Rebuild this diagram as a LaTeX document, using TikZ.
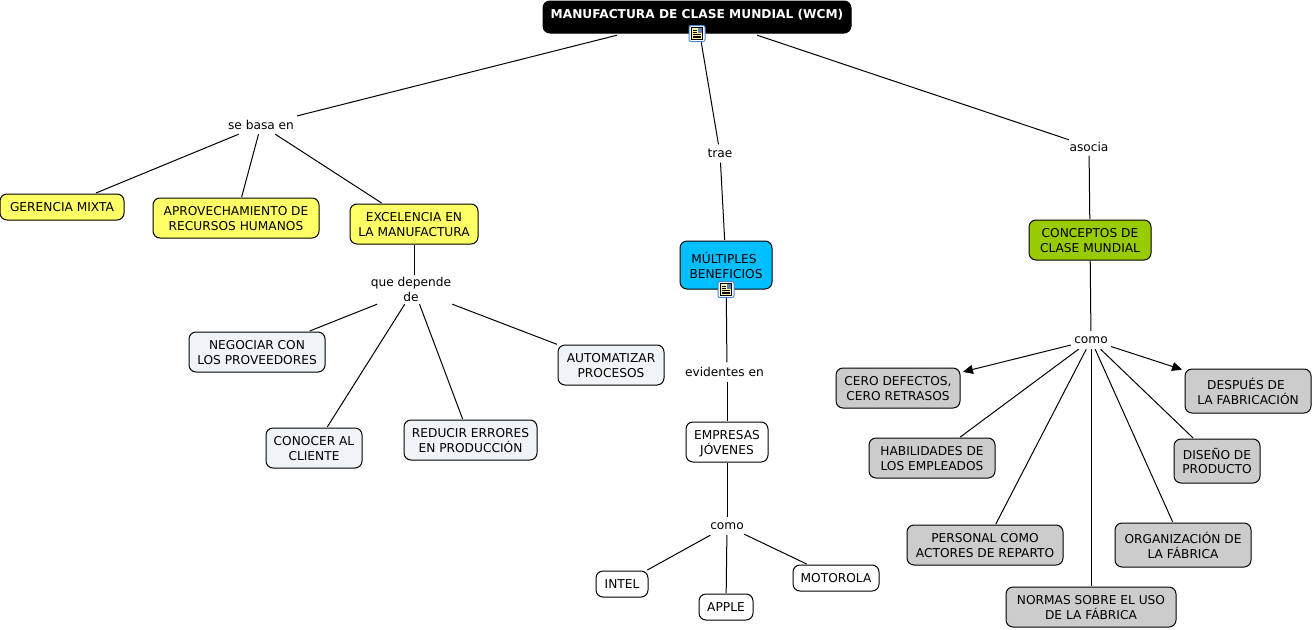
\documentclass[tikz,border=0pt]{standalone}
\usepackage{fontspec}
\setmainfont{DejaVu Sans}
\usetikzlibrary{arrows.meta}
\definecolor{cyel}{HTML}{FFFF66}
\definecolor{ccya}{HTML}{00BFFF}
\definecolor{cgre}{HTML}{99CC00}
\definecolor{cpal}{HTML}{EEF4F7}
\definecolor{cgry}{HTML}{CCCCCC}
\definecolor{cico}{HTML}{4A86D8}
\definecolor{cpag}{HTML}{FFF3A0}
\newcommand\tlift{\rule{0pt}{10.3pt}}
\newcommand\tliftb{\rule{0pt}{12.5pt}}
\tikzset{
  x=1pt,y=-1pt,
  every node/.style={font=\fontsize{12.2}{14.9}\selectfont,align=center,inner sep=0pt,text=black},
  con/.style={draw=black,line width=1pt,rounded corners=7pt,outer sep=1pt},
  rootbox/.style={con,fill=black,text=white,font=\fontsize{12.2}{14.9}\selectfont\bfseries},
  yel/.style={con,fill=cyel},
  cya/.style={con,fill=ccya},
  gre/.style={con,fill=cgre},
  pal/.style={con,fill=cpal},
  whi/.style={con,fill=white},
  gry/.style={con,fill=cgry},
  lab/.style={},
  link/.style={draw=black,line width=1pt},
  alink/.style={link,-{Triangle[length=10pt,width=9pt]},shorten >=2pt},
  pics/docicon/.style={code={
    \draw[draw=cico,fill=white,line width=1pt,rounded corners=2pt] (-8,-8) rectangle (8,8);
    \draw[draw=black,fill=cpag,line width=.8pt] (-5.5,-6) rectangle (5.5,6);
    \fill[cico!60!gray] (0.5,-5.5) rectangle (5,-1);
    \draw[black,line width=.7pt] (-4,-3.5)--(-.5,-3.5) (-4,-1.5)--(-.5,-1.5) (-4,.7)--(4,.7) (-4,2.5)--(4,2.5) (-4,4.3)--(4,4.3);
  }},
}
\begin{document}
\begin{tikzpicture}
\useasboundingbox[fill=white] (0,0) rectangle (1313,629);
% concepts
\node[rootbox,minimum width=308pt,minimum height=32pt] (root) at (697,17) {\raisebox{-1pt}[0pt][0pt]{MANUFACTURA DE CLASE MUNDIAL (WCM)}};
\node[minimum width=308pt,minimum height=40pt] (roothub) at (697,15) {};
\node[yel,minimum width=124pt,minimum height=26pt] (gerencia) at (62,207) {GERENCIA MIXTA};
\node[yel,minimum width=166pt,minimum height=40pt] (aprov) at (236,218) {\tlift APROVECHAMIENTO DE\\RECURSOS HUMANOS};
\node[yel,minimum width=128pt,minimum height=40pt] (excel) at (414,224) {\tlift EXCELENCIA EN\\LA MANUFACTURA};
\node[cya,minimum width=92pt,minimum height=48pt] (mult) at (726,265) {MÚLTIPLES\hspace*{4pt}\\BENEFICIOS};
\node[gre,minimum width=122pt,minimum height=40pt] (conc) at (1090,240) {\tlift CONCEPTOS DE\\CLASE MUNDIAL};
\node[pal,minimum width=136pt,minimum height=40pt] (neg) at (257,352) {\tlift NEGOCIAR CON\\LOS PROVEEDORES};
\node[pal,minimum width=96pt,minimum height=40pt] (conocer) at (314,448) {\tlift CONOCER AL\\CLIENTE};
\node[pal,minimum width=133pt,minimum height=40pt] (reducir) at (470.5,440) {\tlift REDUCIR ERRORES\\EN PRODUCCIÓN};
\node[pal,minimum width=106pt,minimum height=40pt] (autom) at (611,365) {\tlift AUTOMATIZAR\\PROCESOS};
\node[whi,minimum width=82pt,minimum height=40pt] (empresas) at (727,442) {\tliftb EMPRESAS\\JÓVENES};
\node[whi,minimum width=52pt,minimum height=26pt] (intel) at (622,584) {INTEL};
\node[whi,minimum width=54pt,minimum height=26pt] (apple) at (726,607) {APPLE};
\node[whi,minimum width=86pt,minimum height=26pt] (motorola) at (836,578) {MOTOROLA};
\node[gry,minimum width=124pt,minimum height=40pt] (cero) at (898,388) {\tlift CERO DEFECTOS,\\CERO RETRASOS};
\node[gry,minimum width=126pt,minimum height=44pt] (despues) at (1248,391) {\tliftb DESPUÉS DE\hspace*{4pt}\\LA FABRICACIÓN};
\node[gry,minimum width=126pt,minimum height=40pt] (hab) at (932,458) {\tlift HABILIDADES DE\\LOS EMPLEADOS};
\node[gry,minimum width=86pt,minimum height=44pt] (diseno) at (1217,461) {\tlift DISEÑO DE\\PRODUCTO};
\node[gry,minimum width=156pt,minimum height=40pt] (personal) at (985,545) {\tlift PERSONAL COMO\\ACTORES DE REPARTO};
\node[gry,minimum width=136pt,minimum height=44pt] (org) at (1183,545) {\tliftb ORGANIZACIÓN DE\\LA FÁBRICA};
\node[gry,minimum width=170pt,minimum height=40pt] (normas) at (1091,607) {\tlift NORMAS SOBRE EL USO\\DE LA FÁBRICA};
% linking phrases
\node[lab,minimum width=72pt,minimum height=18pt] (sebasa) at (261,125) {se basa en};
\node[lab,minimum width=30pt,minimum height=18pt] (trae) at (720,153.5) {trae};
\node[lab,minimum width=40pt,minimum height=18pt] (asocia) at (1089,146.5) {asocia};
\node[lab,minimum width=76pt,minimum height=29pt] (depende) at (414,289.5) {que depende\hspace*{6pt}\\de\hspace*{6pt}};
\node[lab,minimum width=80pt,minimum height=19pt] (evid) at (727,372) {evidentes en\hspace*{5pt}};
\node[lab,minimum width=28pt,minimum height=18pt] (comoa) at (727,526) {como};
\node[lab,minimum width=40pt,minimum height=18pt] (comob) at (1091,340) {como};
% connectors
\draw[link] (roothub) -- (sebasa);
\draw[link] (sebasa) -- (gerencia);
\draw[link] (sebasa) -- (aprov);
\draw[link] (sebasa) -- (excel);
\draw[link] (excel) -- (depende);
\draw[link] (depende) -- (neg);
\draw[link] (depende) -- (conocer);
\draw[link] (depende) -- (reducir);
\draw[link] (depende) -- (autom);
\draw[link] (root) -- (trae);
\draw[link] (trae) -- (mult);
\draw[link] (roothub) -- (asocia);
\draw[link] (asocia) -- (conc);
\draw[link] (conc) -- (comob);
\draw[link] (mult) -- (evid);
\draw[link] (evid) -- (empresas);
\draw[link] (empresas) -- (comoa);
\draw[link] (comoa) -- (intel);
\draw[link] (comoa) -- (apple);
\draw[link] (comoa) -- (motorola);
\draw[alink] (comob) -- (cero);
\draw[alink] (comob) -- (despues);
\draw[link] (comob) -- (hab);
\draw[link] (comob) -- (personal);
\draw[link] (comob) -- (normas);
\draw[link] (comob) -- (org);
\draw[link] (comob) -- (diseno);
% resource icons
\pic at (697,33.5) {docicon};
\pic at (726,289.5) {docicon};
\end{tikzpicture}
\end{document}
